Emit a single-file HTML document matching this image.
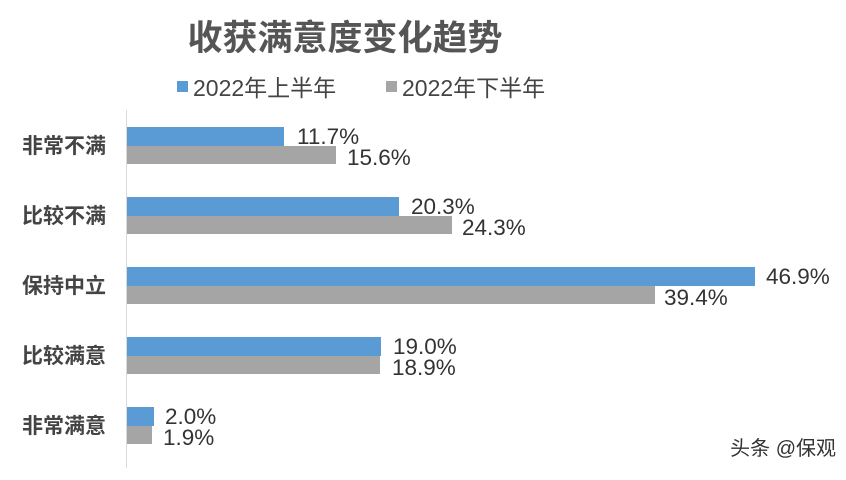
<!DOCTYPE html>
<html><head><meta charset="utf-8"><style>
body{margin:0;width:846px;height:475px;background:#fff;overflow:hidden;}
svg text{font-family:"Liberation Sans","Noto Sans CJK SC",sans-serif;}
</style></head><body>
<svg width="846" height="475" xmlns="http://www.w3.org/2000/svg">
<text x="345" y="50" text-anchor="middle" font-size="35" font-weight="bold" fill="#555">收获满意度变化趋势</text>
<rect x="177" y="81" width="11" height="11" fill="#5b9bd5"/>
<text x="193" y="96" font-size="23" fill="#444">2022年上半年</text>
<rect x="386" y="81" width="11" height="11" fill="#a5a5a5"/>
<text x="402" y="96" font-size="23" fill="#444">2022年下半年</text>
<line x1="126.5" y1="110" x2="126.5" y2="468" stroke="#d9d9d9" stroke-width="1"/>
<g font-size="21" font-weight="bold" fill="#444" text-anchor="end">
<text x="106" y="153">非常不满</text>
<text x="106" y="223">比较不满</text>
<text x="106" y="293">保持中立</text>
<text x="106" y="363">比较满意</text>
<text x="106" y="433">非常满意</text>
</g>
<g fill="#5b9bd5">
<rect x="127" y="127" width="157" height="19"/>
<rect x="127" y="197" width="272" height="19"/>
<rect x="127" y="267" width="628" height="19"/>
<rect x="127" y="337" width="254" height="19"/>
<rect x="127" y="407" width="27" height="19"/>
</g>
<g fill="#a5a5a5">
<rect x="127" y="146" width="209" height="18"/>
<rect x="127" y="216" width="325" height="18"/>
<rect x="127" y="286" width="528" height="18"/>
<rect x="127" y="356" width="253" height="18"/>
<rect x="127" y="426" width="25" height="18"/>
</g>
<g font-size="22.5" fill="#333">
<text x="297" y="144">11.7%</text><text x="347" y="165">15.6%</text>
<text x="411" y="214">20.3%</text><text x="462" y="235">24.3%</text>
<text x="766" y="284">46.9%</text><text x="664" y="305">39.4%</text>
<text x="393" y="354">19.0%</text><text x="392" y="375">18.9%</text>
<text x="165" y="424">2.0%</text><text x="163" y="445">1.9%</text>
</g>
<text x="836" y="455" text-anchor="end" font-size="20" fill="#333">头条 @保观</text>
</svg>
</body></html>
